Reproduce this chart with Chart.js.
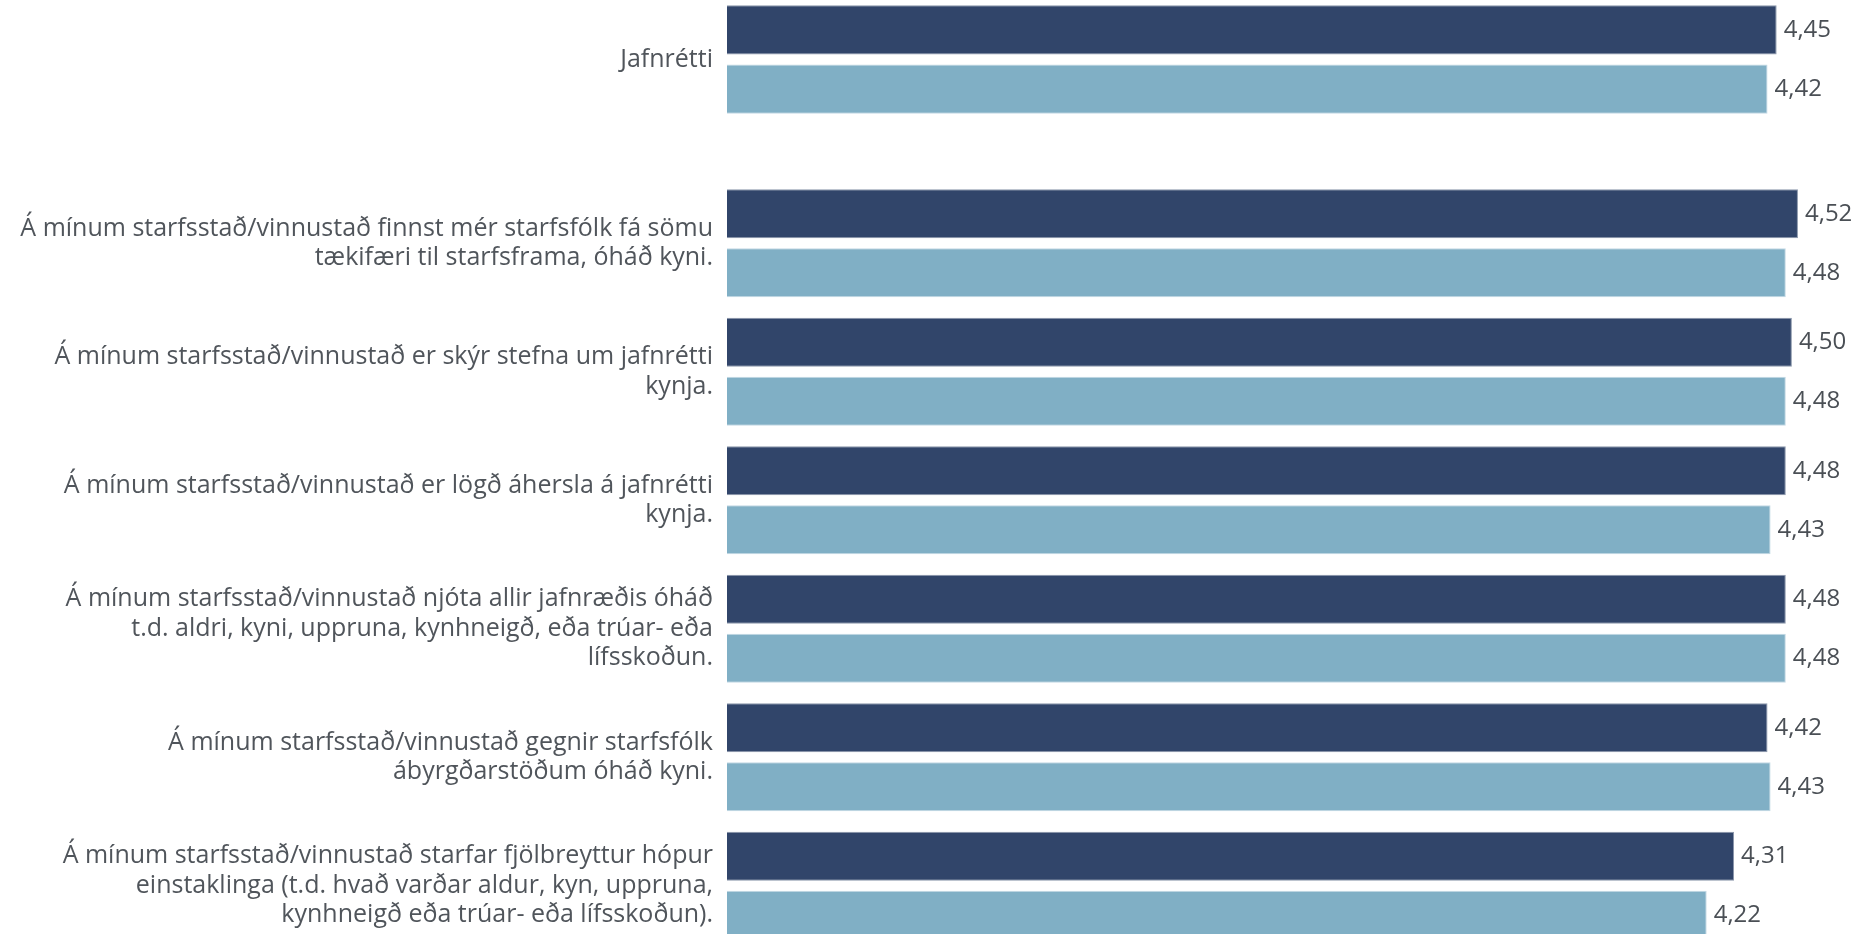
<!DOCTYPE html>
<html>
<head>
<meta charset="utf-8">
<script src="https://cdn.jsdelivr.net/npm/chart.js@4.4.1/dist/chart.umd.min.js"></script>
<style>
  html, body { margin:0; padding:0; background:#fff; overflow:hidden; width:1860px; height:934px; }
  .wrap { position:absolute; left:0; }
  #top-wrap { top:-5px; }
  #items-wrap { top:179px; }
</style>
</head>
<body>
<div class="wrap" id="top-wrap"><canvas id="topChart" width="1944" height="129"></canvas></div>
<div class="wrap" id="items-wrap"><canvas id="itemsChart" width="1944" height="771"></canvas></div>
<script>
// Jafnrétti — mean scores, two groups (dark / light)
const topLabels = ['Jafnrétti'];
const topDark   = [4.45];
const topLight  = [4.42];

const itemLabels = [
  ['Á mínum starfsstað/vinnustað finnst mér starfsfólk fá sömu', 'tækifæri til starfsframa, óháð kyni.'],
  ['Á mínum starfsstað/vinnustað er skýr stefna um jafnrétti', 'kynja.'],
  ['Á mínum starfsstað/vinnustað er lögð áhersla á jafnrétti', 'kynja.'],
  ['Á mínum starfsstað/vinnustað njóta allir jafnræðis óháð', 't.d. aldri, kyni, uppruna, kynhneigð, eða trúar- eða', 'lífsskoðun.'],
  ['Á mínum starfsstað/vinnustað gegnir starfsfólk', 'ábyrgðarstöðum óháð kyni.'],
  ['Á mínum starfsstað/vinnustað starfar fjölbreyttur hópur', 'einstaklinga (t.d. hvað varðar aldur, kyn, uppruna,', 'kynhneigð eða trúar- eða lífsskoðun).']
];
const itemDark  = [4.52, 4.50, 4.48, 4.48, 4.42, 4.31];
const itemLight = [4.48, 4.48, 4.43, 4.48, 4.43, 4.22];

const axisMin = 1, axisMax = 5;

const FONT = '"Open Sans"';
const DARK = '#31456a', DARK_EDGE = '#8b97ab';
const LIGHT = '#80afc5', LIGHT_EDGE = '#c3d9e4';

// value labels at the end of each bar, e.g. "4,45"
const valueLabels = {
  id: 'valueLabels',
  afterDatasetsDraw(chart) {
    const ctx = chart.ctx;
    ctx.save();
    ctx.font = `24px ${FONT}`;
    ctx.fillStyle = '#4a4f55';
    ctx.textAlign = 'left';
    ctx.textBaseline = 'middle';
    chart.data.datasets.forEach((ds, i) => {
      chart.getDatasetMeta(i).data.forEach((bar, j) => {
        ctx.fillText(ds.data[j].toFixed(2).replace('.', ','), bar.x + 7, bar.y);
      });
    });
    ctx.restore();
  }
};

function makeChart(id, labels, dark, light) {
  return new Chart(document.getElementById(id), {
    type: 'bar',
    data: {
      labels,
      datasets: [
        {data: dark,  backgroundColor: DARK,  borderColor: DARK_EDGE,  borderWidth: 1,
         categoryPercentage: 0.918, barPercentage: 0.83},
        {data: light, backgroundColor: LIGHT, borderColor: LIGHT_EDGE, borderWidth: 1,
         categoryPercentage: 0.918, barPercentage: 0.83}
      ]
    },
    options: {
      indexAxis: 'y', responsive: false, animation: false,
      layout: {padding: 0},
      plugins: {legend: {display: false}, tooltip: {enabled: false}},
      scales: {
        x: {min: axisMin, max: axisMax, display: false},
        y: {
          grid: {display: false, drawTicks: false}, border: {display: false},
          ticks: {color: '#50555b', padding: 14, font: {family: FONT, size: 25, lineHeight: 1.18}},
          // fixed label column, no extra room above/below for the wrapped labels
          afterFit(scale) { scale.width = 727; scale.paddingTop = 0; scale.paddingBottom = 0; }
        }
      }
    },
    plugins: [valueLabels]
  });
}

makeChart('topChart', topLabels, topDark, topLight);
makeChart('itemsChart', itemLabels, itemDark, itemLight);
</script>
</body>
</html>
